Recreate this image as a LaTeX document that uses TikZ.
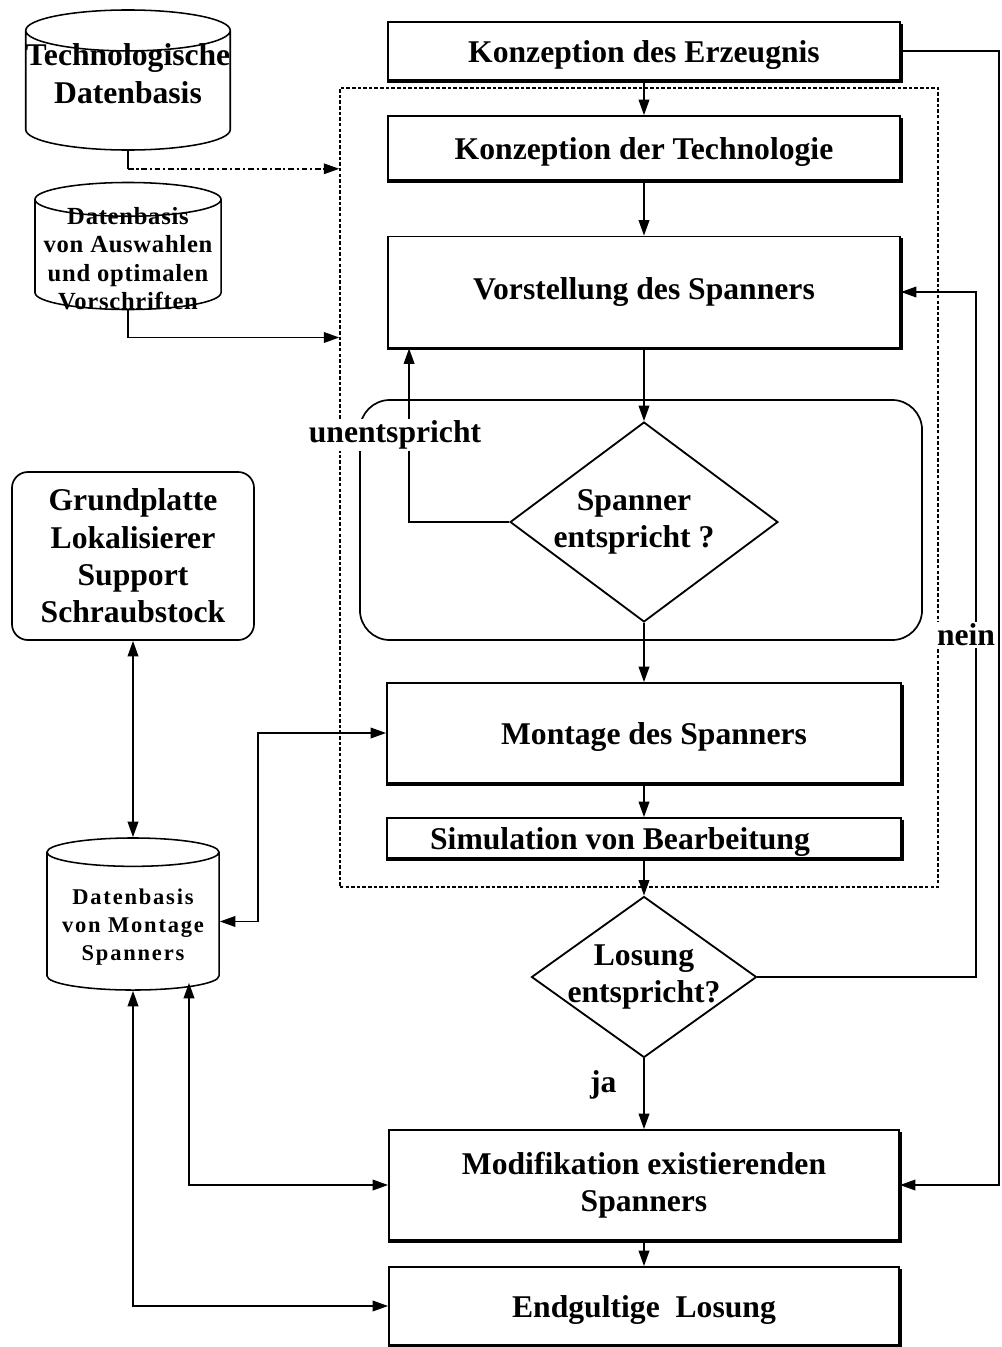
\documentclass[tikz,border=0pt]{standalone}
\usepackage{fontspec}
\setmainfont{Liberation Serif}
\newfontfamily\dbfont[LetterSpace=3]{Liberation Serif}
\newfontfamily\dbwide[LetterSpace=8]{Liberation Serif}
\usetikzlibrary{shapes.geometric,arrows.meta,calc}

% text moved up or down inside a data base symbol
\newcommand\dbtext[2]{\raisebox{#1}[0pt][0pt]{\begin{tabular}{@{}c@{}}#2\end{tabular}}}

\tikzset{
  box/.style={draw, line width=1.2pt, fill=white, inner sep=0pt, align=center},
  oneline/.style={align=none, text height=16.5pt, text depth=0pt},
  dbase/.style={cylinder, shape border rotate=90, draw, line width=1.1pt, fill=white,
                inner sep=0pt, aspect=0.2, align=center, anchor=shape center},
  decision/.style={diamond, draw, line width=1.3pt, fill=white, inner sep=0pt, align=center},
  arr/.style={-{Triangle[length=11pt,width=7.5pt]}, line width=1.3pt},
  dbl/.style={{Triangle[length=11pt,width=7.5pt]}-{Triangle[length=11pt,width=7.5pt]}, line width=1.3pt},
  lbl/.style={fill=white, inner sep=1pt},
}

\begin{document}
\begin{tikzpicture}[x=0.025cm, y=-0.025cm, font=\fontsize{22.5}{26.5}\selectfont\bfseries]
  \useasboundingbox (0,0) rectangle (1001,1347);

  % Frames
  \node[draw, line width=0.9pt, dash pattern=on 2.5pt off 1.5pt, minimum width=14.95cm, minimum height=19.975cm] (grp) at (639,487.5) {};
  \node[draw, line width=1.2pt, rounded corners=0.75cm, minimum width=14.05cm, minimum height=6cm] (pruef) at (641,520) {};

  % Main column
  \node[box, oneline, minimum width=12.8cm, minimum height=1.45cm] (erz) at (644,51) {Konzeption des Erzeugnis};
  \node[box, oneline, minimum width=12.8cm, minimum height=1.6cm] (tech) at (644,148) {Konzeption der Technologie};
  \node[box, minimum width=12.8cm, minimum height=2.775cm] (vor) at (644,292) {Vorstellung des Spanners};
  \node[decision, aspect=1.34, minimum width=6.675cm, minimum height=4.975cm] (spq) at (644,522) {Spanner\kern0.5cm\\entspricht ?\kern0.5cm};
  \node[box, oneline, minimum width=12.85cm, minimum height=2.5cm] (mon) at (644,733) {\kern0.5cm Montage des Spanners};
  \node[box, oneline, minimum width=12.85cm, minimum height=1cm] (sim) at (644,838) {Simulation von Bearbeitung\kern1.2cm};
  \node[decision, aspect=1.4, inner sep=-4.5pt, minimum width=5.625cm, minimum height=4.025cm] (loq) at (644,977) {Losung\\entspricht?};
  \node[box, minimum width=12.75cm, minimum height=2.75cm] (mod) at (644,1185) {Modifikation existierenden\\Spanners};
  \node[box, oneline, minimum width=12.75cm, minimum height=1.95cm] (fin) at (644,1306) {Endgultige~ Losung};

  % shadow edges
  \foreach \b in {erz,tech,vor,mon,sim,mod,fin}
    \draw[line width=2.6pt] ([yshift=-2pt]\b.north east) -- (\b.south east) -- (\b.south west);

  % Left side
  \node[dbase, minimum width=5.025cm, minimum height=3.5cm] (tdb) at (128,80)
        {\dbtext{0.16cm}{Technologische\\Datenbasis}};
  \node[dbase, minimum width=4.65cm, minimum height=3.175cm,
        font=\dbfont\fontsize{17.5}{20}\selectfont\bfseries] (adb) at (128,246)
        {\dbtext{-0.315cm}{Datenbasis\\von Auswahlen\\und optimalen\\Vorschriften}};
  \node[box, rounded corners=0.4cm, minimum width=6.05cm, minimum height=4.2cm] (grd) at (133,556)
        {Grundplatte\\Lokalisierer\\Support\\Schraubstock};
  \node[dbase, minimum width=4.3cm, minimum height=3.8cm,
        font=\dbwide\fontsize{16}{20}\selectfont\bfseries] (mdb) at (133,914)
        {\dbtext{-0.29cm}{Datenbasis\\von Montage\\Spanners}};

  % Flow
  \draw[arr] (erz) -- (tech);
  \draw[arr] (tech) -- (vor);
  \draw[arr] (vor) -- (spq);
  \draw[arr] (spq) -- (mon);
  \draw[arr] (mon) -- (sim);
  \draw[arr] (sim) -- (loq);
  \draw[arr] (loq) -- (mod) node[pos=0.37, left=0.55cm] (ja) {ja};
  \draw[arr] (mod) -- (fin);

  % Back loops
  \draw[arr] (spq.west) -| ($(vor.south west)+(22,0)$);
  \node[lbl] (unl) at (395,435) {unentspricht};
  \draw[arr] (loq.east) -| ($(vor.east)+(75,0)$) -- (vor.east);
  \node[lbl] (nl) at (966,635) {nein};
  \draw[arr] (erz.east) -- ++(98,0) |- (mod.east);

  % Data bases
  \draw[line width=1.3pt] (tdb.south) -- ++(0,18) coordinate (tdbo);
  \draw[arr, line width=1.1pt, dash pattern=on 4pt off 2pt on 1.5pt off 2pt] (tdbo) -- (tdbo -| grp.west);
  \draw[arr] (adb.south) |- ($(grp.west)+(0,-150)$);
  \draw[dbl] (grd.south) -- (grd.south |- mdb.north);
  \draw[dbl] (mdb.east) -- ++(38,0) |- (mon.west);
  \draw[dbl] ($(mdb.south)+(56,-8)$) |- (mod.west);
  \draw[dbl] (mdb.south) |- (fin.west);
\end{tikzpicture}
\end{document}
